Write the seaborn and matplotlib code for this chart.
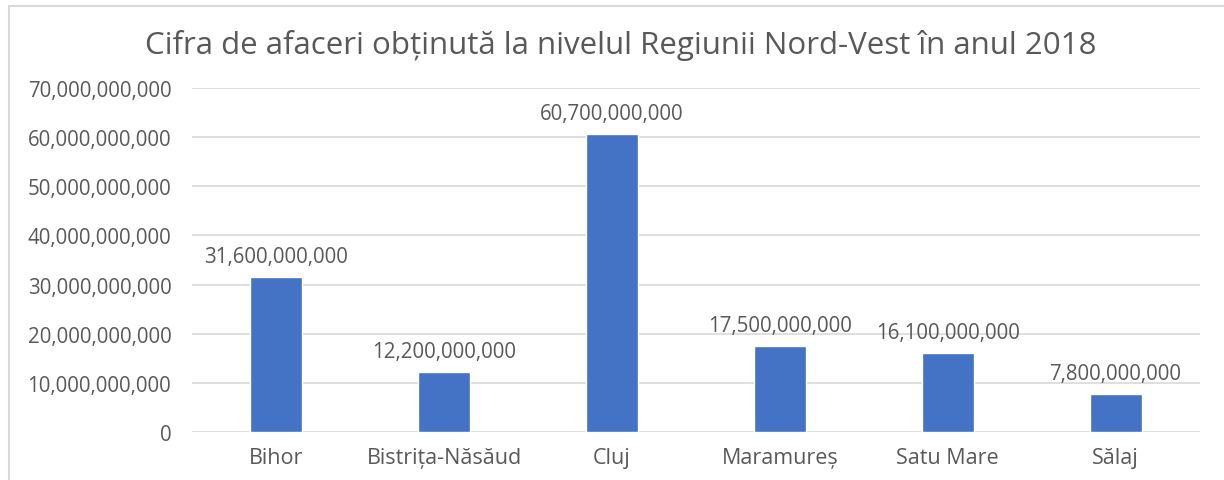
import matplotlib
matplotlib.use("Agg")
import matplotlib.pyplot as plt
import matplotlib.ticker as mticker
import pandas as pd
import seaborn as sns

judete = ["Bihor", "Bistrița-Năsăud", "Cluj", "Maramureș", "Satu Mare", "Sălaj"]
cifra_afaceri = [31_600_000_000, 12_200_000_000, 60_700_000_000,
                 17_500_000_000, 16_100_000_000, 7_800_000_000]
y_ticks = [0, 10e9, 20e9, 30e9, 40e9, 50e9, 60e9, 70e9]

df = pd.DataFrame({"judet": judete, "cifra": cifra_afaceri})

sns.set_theme(style="white")
plt.rcParams["font.family"] = ["Open Sans", "DejaVu Sans"]
text_color = "#595959"

fig = plt.figure(figsize=(12.24, 4.81), dpi=100)
ax = fig.add_axes([0.157, 0.0998, 0.823, 0.715])

sns.barplot(data=df, x="judet", y="cifra", color="#4472C4", width=0.31,
            saturation=1, ax=ax, zorder=3)

ax.set_ylim(0, 70e9)
ax.set_yticks(y_ticks)
ax.yaxis.set_major_formatter(mticker.FuncFormatter(lambda v, p: f"{int(v):,}"))
ax.grid(axis="y", color="#D9D9D9", lw=1.2, zorder=0)
ax.grid(axis="x", visible=False)
for s in ax.spines.values():
    s.set_visible(False)
ax.tick_params(axis="y", length=0, labelsize=14.8, colors=text_color, pad=15)
ax.tick_params(axis="x", length=0, labelsize=15.5, colors=text_color, pad=11)
ax.set_xlabel("")
ax.set_ylabel("")

for i, v in enumerate(cifra_afaceri):
    ax.annotate(f"{v:,}", (i, v), xytext=(0, 7), textcoords="offset points",
                ha="center", va="bottom", fontsize=14.8, color=text_color)

fig.text(0.507, 0.905, "Cifra de afaceri obținută la nivelul Regiunii Nord-Vest în anul 2018",
         ha="center", va="center", fontsize=22.5, color=text_color)

# chenarul graficului
border = plt.Rectangle((0.007, -0.05), 1.1, 1.035, transform=fig.transFigure,
                       fill=False, ec="#D9D9D9", lw=1.5)
fig.add_artist(border)

fig.savefig("out.png", dpi=100)
